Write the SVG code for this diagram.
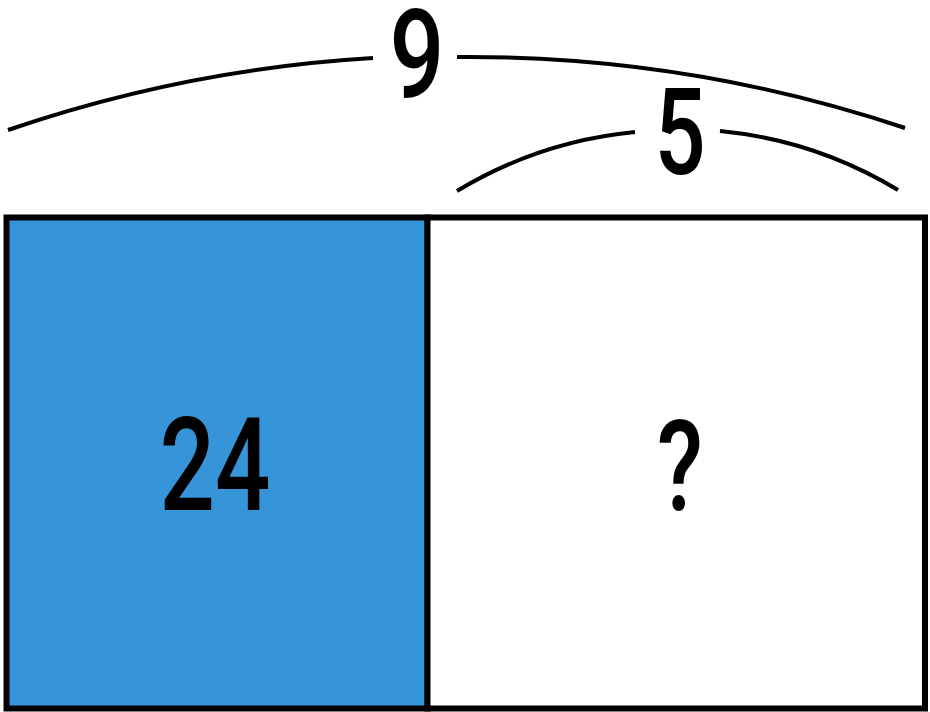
<svg xmlns="http://www.w3.org/2000/svg" width="930" height="712" viewBox="0 0 930 712">
  <style>
    .arc { fill: none; stroke: #000; stroke-width: 4; stroke-linecap: butt; }
    .box { stroke: #000; stroke-width: 6; }
    .lbl { font-family: Roboto, "Liberation Sans", sans-serif; font-weight: 500; fill: #000; text-anchor: middle; }
  </style>
  <rect width="930" height="712" fill="#fff"/>
  <g id="connectors">
    <path class="arc" d="M 8 130 A 1378 1378 0 0 1 373 58"/>
    <path class="arc" d="M 457 57 A 1378 1378 0 0 1 905 128"/>
    <path class="arc" d="M 457 191 A 423 423 0 0 1 635 132"/>
    <path class="arc" d="M 720 131 A 423 423 0 0 1 898 190"/>
  </g>
  <g id="node-left">
    <rect class="box" x="6.5" y="217.5" width="421" height="491" fill="#3595d8"/>
    <text class="lbl" font-size="130" transform="translate(215,510) scale(0.75,1)">24</text>
  </g>
  <g id="node-right">
    <rect class="box" x="427.5" y="217.5" width="497.5" height="491" fill="#fff"/>
    <text class="lbl" font-size="126" transform="translate(680,510) scale(0.75,1)">?</text>
  </g>
  <g id="label-total">
    <text class="lbl" font-size="124" transform="translate(417,97) scale(0.78,1)">9</text>
  </g>
  <g id="label-part">
    <text class="lbl" font-size="120" transform="translate(680,174) scale(0.75,1)">5</text>
  </g>
</svg>
